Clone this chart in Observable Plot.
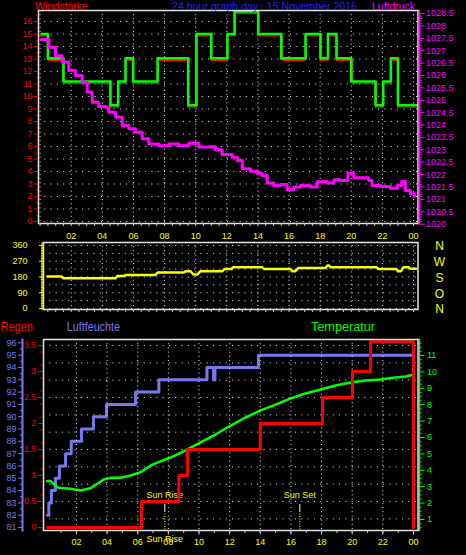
<!DOCTYPE html>
<html><head><meta charset="utf-8">
<script src="https://cdn.jsdelivr.net/npm/d3@7"></script>
<script src="https://cdn.jsdelivr.net/npm/@observablehq/plot@0.6"></script>
<style>
html,body{margin:0;padding:0;background:#000;}
#chart{position:relative;width:466px;height:555px;background:#000;overflow:hidden;}
</style></head><body><div id="chart"></div>
<script>
// ---------------- DATA ----------------
const hourTicks = [2,4,6,8,10,12,14,16,18,20,22,24];
const hourLabels = ["02","04","06","08","10","12","14","16","18","20","22","00"];

// Windstärke (green = gust, red = mean)
const windTicks = [0,1,2,3,4,5,6,7,8,9,10,11,12,13,14,15,16];
const windHours = [0.1,0.5,1.5,4.52,5.02,5.49,5.98,7.55,9.52,10.05,11.0,12.04,12.5,14.02,15.5,17.06,18.02,18.5,19.05,20.0,21.56,22.05,22.54,23.0,24.2];
const windGust  = [15.0,13.05,11.2,9.3,11.2,13.05,11.2,13.05,9.3,15.0,13.05,15.0,16.8,15.0,13.05,15.0,13.05,15.0,13.05,11.2,9.3,11.2,13.05,9.3,9.3];
const windAvgHours = [0.05,0.5,1.5,4.52,5.02,5.49,5.98,7.55,9.52,10.05,11.0,12.04,12.5,14.02,15.6,17.06,18.02,18.5,19.05,20.1,21.56,22.05,22.54,23.0,24.2];
const windAvg   = [14.85,12.9,11.05,9.15,11.05,12.9,11.05,12.9,9.15,14.85,12.9,14.85,16.65,14.85,12.9,14.85,12.9,14.85,12.9,11.05,9.15,11.05,12.9,9.15,9.15];

// Luftdruck
const pressTicks = [1020,1020.5,1021,1021.5,1022,1022.5,1023,1023.5,1024,1024.5,1025,1025.5,1026,1026.5,1027,1027.5,1028,1028.5];
const pressHours = [0.09,0.56,0.99,1.42,1.84,2.28,2.71,3.03,3.35,3.77,4.20,4.42,4.85,5.28,5.70,6.13,6.56,6.99,7.63,8.27,8.91,9.56,10.20,10.84,11.27,11.70,12.35,12.67,12.99,13.52,13.95,14.27,14.60,15.02,15.45,15.88,16.30,16.73,17.38,17.81,18.45,18.88,19.31,19.78,20.16,20.80,21.12,21.34,21.88,22.52,22.95,23.23,23.48,23.80,24.06];
const pressVals  = [1027.45,1027.14,1026.80,1026.54,1026.20,1026.00,1025.73,1025.33,1024.92,1024.75,1024.72,1024.52,1024.32,1023.98,1023.85,1023.71,1023.45,1023.24,1023.17,1023.24,1023.17,1023.27,1023.11,1023.13,1023.00,1022.81,1022.70,1022.57,1022.24,1022.14,1022.06,1021.97,1021.66,1021.56,1021.60,1021.39,1021.50,1021.56,1021.50,1021.72,1021.66,1021.79,1021.76,1022.06,1021.87,1021.87,1021.76,1021.56,1021.52,1021.45,1021.56,1021.72,1021.36,1021.23,1021.12];

// Windrichtung
const dirTicks = [0,90,180,270,360];
const compassLetters = ["N","W","S","O","N"];
const compassDeg = [360,270,180,90,0];
const dirHours = [0.46,1.38,1.5,4.85,4.95,5.38,5.5,7.42,7.55,9.24,9.35,9.67,9.85,10.1,10.31,11.72,11.85,12.3,12.4,14.27,14.4,16.1,16.2,16.4,16.6,18.34,18.47,18.55,18.66,21.62,21.75,22.9,23.0,23.2,23.35,23.68,23.8,24.17];
const dirVals  = [183,183,173,173,185,185,192,192,206,206,213,213,194,194,213,213,225,225,236,236,225,225,213,213,232,232,246,246,236,236,225,225,213,213,236,236,227,227];

// Luftfeuchte
const humTicks = [81,82,83,84,85,86,87,88,89,90,91,92,93,94,95,96];
const humHours = [0.11,0.2,0.37,0.63,0.89,1.29,1.66,2.33,3.11,3.96,5.86,7.38,10.52,10.95,11.04,13.88,24.0];
const humVals  = [82,83,84,85,86,87,88,89,90,91,92,93,94,93,94,95,95];

// Regen
const rainTicks = [0,0.5,1,1.5,2,2.5,3,3.5];
const rainHours = [0.11,6.25,8.68,9.25,14.0,18.06,20.02,21.2,24.0,24.0];
const rainVals  = [0,0.5,1.0,1.5,2.0,2.5,3.0,3.57,3.57,0];

// Temperatur
const tempTicks = [1,2,3,4,5,6,7,8,9,10,11];
const tempHours = [0.09,0.31,0.5,0.83,1.61,2.27,2.92,3.37,3.77,4.22,4.88,5.53,6.18,6.57,6.96,7.49,8.14,9.12,10.1,11.08,12.06,13.04,14.02,15.0,15.97,16.95,17.93,18.91,19.9,20.88,21.85,22.83,23.49,24.01];
const tempVals  = [3.34,3.34,3.18,2.93,2.87,2.77,2.91,3.18,3.44,3.54,3.54,3.68,3.88,4.13,4.35,4.54,4.78,5.21,5.70,6.18,6.73,7.22,7.65,8.01,8.38,8.68,8.93,9.17,9.35,9.48,9.54,9.66,9.72,9.84];

// Sonne
const sunEvents = ["Sun Rise","Sun Set"];
const sunHours = [7.77,16.58];

const titleTexts = ["Windstärke","24 hour graph day : 15 November 2016","Luftdruck","Regen","Luftfeuchte","Temperatur"];

// ---------------- DRAW ----------------
const W = 466, H = 555;
const FONT = "'Liberation Sans', Arial, sans-serif";
const HUM = "#7878ee";
const GRID = "#f0f0f0";
const FRAME = "#e4e4e4";
const chart = document.getElementById("chart");
function add(svg){
  Object.assign(svg.style,{position:"absolute",left:"0px",top:"0px",background:"transparent",
    overflow:"visible",fontFamily:FONT,fontSize:"9px",maxWidth:"none"});
  chart.appendChild(svg);
}
const pts = (hs, vs) => hs.map((h,i)=>({h, v: vs[i]}));
const fmtHour = d => hourLabels[hourTicks.indexOf(d)];
const noText = () => "";

// Panel 1 geometry
const P1 = {width:W, height:H, marginLeft:38, marginRight:48.5, marginTop:10, marginBottom:332};
const X1 = {domain:[-0.103, 24.287]};
const halfHours1 = d3.range(0, 24.3, 0.5);

// Wind
add(Plot.plot({...P1, x:{...X1}, y:{domain:[-0.16,16.88]},
  marks:[
    Plot.ruleY(windTicks, {stroke:GRID, strokeDasharray:"1,5.3"}),
    Plot.ruleX([0,...hourTicks], {stroke:GRID, strokeDasharray:"1,3.2"}),
    Plot.line(pts(windAvgHours, windAvg), {x:"h", y:"v", curve:"step-after", stroke:"#ff0000", strokeWidth:1.4}),
    Plot.line(pts(windHours, windGust), {x:"h", y:"v", curve:"step-after", stroke:"#00ff00", strokeWidth:2.6}),
    Plot.frame({stroke:FRAME, strokeWidth:1.5}),
    Plot.axisY(windTicks, {anchor:"left", tickSize:4, tickPadding:2, color:"#ff0000", label:null, tickFormat:d=>String(d)}),
    Plot.axisY(d3.range(0.5,16.6,1), {anchor:"left", tickSize:2, tickPadding:0, color:"#ff0000", label:null, tickFormat:noText}),
    Plot.axisX(hourTicks, {anchor:"bottom", tickSize:0, tickPadding:9, color:"#ffff00", label:null, tickFormat:fmtHour}),
    Plot.axisX(halfHours1, {anchor:"bottom", tickSize:3, tickPadding:0, color:"#cccccc", label:null, tickFormat:noText})
  ]}));

// Pressure
add(Plot.plot({...P1, x:{...X1, axis:null}, y:{domain:[1020.029,1028.621]},
  marks:[
    Plot.line(pts(pressHours, pressVals), {x:"h", y:"v", curve:"step-after", stroke:"#ff00ff", strokeWidth:3}),
    Plot.frame({anchor:"right", stroke:"#ff00ff", strokeWidth:1.5, dx:1.5}),
    Plot.axisY(pressTicks, {anchor:"right", tickSize:6, tickPadding:2, color:"#ff00ff", label:null, tickFormat:d=>d%1?d.toFixed(1):String(d)}),
    Plot.axisY(d3.range(1020.1,1028.6,0.1), {anchor:"right", tickSize:3, tickPadding:0, color:"#ff00ff", label:null, tickFormat:noText})
  ]}));

// Panel 2: direction
const P2 = {width:W, height:H, marginLeft:43, marginRight:48.5, marginTop:242, marginBottom:246};
add(Plot.plot({...P2, x:{domain:[0.2185,24.287]}, y:{domain:[-5.7,377.1]},
  marks:[
    Plot.ruleY(d3.range(0,361,45), {stroke:GRID, strokeDasharray:"1,5.3"}),
    Plot.ruleX(hourTicks, {stroke:GRID, strokeDasharray:"1,3.2"}),
    Plot.line(pts(dirHours, dirVals), {x:"h", y:"v", stroke:"#ffff00", strokeWidth:2.5}),
    Plot.frame({stroke:FRAME, strokeWidth:1.5}),
    Plot.frame({anchor:"left", stroke:"#ffff00", strokeWidth:1, dx:-1.5}),
    Plot.axisY(dirTicks, {anchor:"left", tickSize:4, tickPadding:12, color:"#ffff00", label:null, tickFormat:d=>String(d)}),
    Plot.axisY(d3.range(15,360,15), {anchor:"left", tickSize:2, tickPadding:0, color:"#ffff00", label:null, tickFormat:noText}),
    Plot.axisX(d3.range(0.5,24.3,0.5), {anchor:"bottom", tickSize:3, tickPadding:0, color:"#cccccc", label:null, tickFormat:noText}),
    Plot.text(compassDeg, {y:d=>d, text:(d,i)=>compassLetters[i], frameAnchor:"right", dx:21.5, dy:1, textAnchor:"middle", fill:"#ffff00", fontSize:12})
  ]}));

// Panel 3 geometry
const P3 = {width:W, height:H, marginLeft:43, marginRight:48.5, marginTop:339, marginBottom:25};
const X3 = {domain:[-0.15,24.295]};
const rainGrid = d3.range(0,11).map(k => 3.5 - k/3);

// Humidity line (under)
add(Plot.plot({...P3, x:{...X3, axis:null}, y:{domain:[80.756,96.272], axis:null},
  marks:[
    Plot.ruleY(rainGrid, {y:d=>81 + (d*52)/12.31, stroke:GRID, strokeDasharray:"1,5.3"}),
    Plot.line(pts(humHours, humVals), {x:"h", y:"v", curve:"step-after", stroke:HUM, strokeWidth:3})
  ]}));

// Temperature
add(Plot.plot({...P3, x:{...X3, axis:null}, y:{domain:[0.329,11.976]},
  marks:[
    Plot.line(pts(tempHours, tempVals), {x:"h", y:"v", stroke:"#00ff00", strokeWidth:2.5}),
    Plot.frame({anchor:"right", stroke:"#00ff00", strokeWidth:1.5, dx:1.5}),
    Plot.axisY(tempTicks, {anchor:"right", tickSize:6, tickPadding:3, color:"#00ff00", label:null, tickFormat:d=>String(d)}),
    Plot.axisY(d3.range(0.5,11.9,0.25).filter(d=>d%1), {anchor:"right", tickSize:3, tickPadding:0, color:"#00ff00", label:null, tickFormat:noText})
  ]}));

// Rain + frame + x axis + sun markers
add(Plot.plot({...P3, x:{...X3}, y:{domain:[-0.0577,3.615]},
  marks:[
    Plot.ruleX(hourTicks, {stroke:GRID, strokeDasharray:"1,3.2"}),
    Plot.ruleX(sunHours, {stroke:"#ffffff", strokeWidth:1, insetTop:165, insetBottom:19}),
    Plot.ruleX(sunHours, {stroke:"#ffff00", strokeWidth:1, strokeDasharray:"1,1.5", insetTop:172}),
    Plot.text(sunHours, {x:d=>d, text:(d,i)=>sunEvents[i], frameAnchor:"bottom", dy:-33, fill:"#ffff00", fontSize:9}),
    Plot.line(pts(rainHours, rainVals), {x:"h", y:"v", curve:"step-after", stroke:"#ff0000", strokeWidth:3}),
    Plot.frame({stroke:FRAME, strokeWidth:1.5}),
    Plot.axisY(rainTicks, {anchor:"left", tickSize:5, tickPadding:2, color:"#ff0000", label:null, tickFormat:d=>String(d)}),
    Plot.axisY(d3.range(0.125,3.6,0.25), {anchor:"left", tickSize:2.5, tickPadding:0, color:"#ff0000", label:null, tickFormat:noText}),
    Plot.axisX(hourTicks, {anchor:"bottom", tickSize:0, tickPadding:8, color:"#ffff00", label:null, tickFormat:fmtHour}),
    Plot.axisX(d3.range(1,24.1,1), {anchor:"bottom", tickSize:3, tickPadding:0, color:"#cccccc", label:null, tickFormat:noText}),
    Plot.axisX(hourTicks, {anchor:"bottom", tickSize:4.5, tickPadding:0, color:"#cccccc", label:null, tickFormat:noText}),
    Plot.text([sunHours[0]], {x:d=>d, text:()=>sunEvents[0], frameAnchor:"bottom", dy:11.5, fill:"#ffff00", fontSize:9})
  ]}));

// Humidity axis (separate, left of the rain axis)
add(Plot.plot({width:W, height:H, marginLeft:22, marginRight:443, marginTop:339, marginBottom:25,
  y:{domain:[80.756,96.272]},
  marks:[
    Plot.frame({anchor:"left", stroke:HUM, strokeWidth:2}),
    Plot.axisY(humTicks, {anchor:"left", tickSize:4, tickPadding:2, color:HUM, label:null, tickFormat:d=>String(d)}),
    Plot.axisY(d3.range(81.5,96,1), {anchor:"left", tickSize:2, tickPadding:0, color:HUM, label:null, tickFormat:noText})
  ]}));

// Titles
const titleLayout = [
  {x:35, y:9.5, w:53, c:"#ff0000", s:11.5},
  {x:172, y:9.8, w:185, c:"#2222ff", s:11.5},
  {x:372, y:9.5, w:43, c:"#ff00ff", s:11.5},
  {x:0.5, y:330.7, w:32.5, c:"#ff0000", s:12},
  {x:66.7, y:330.7, w:53.3, c:HUM, s:12},
  {x:311, y:330.7, w:64, c:"#00ff00", s:12}
];
const tsvg = d3.create("svg").attr("width",W).attr("height",H).attr("font-family",FONT);
titleTexts.forEach((t,i)=>{
  const L = titleLayout[i];
  tsvg.append("text").attr("x",L.x).attr("y",L.y).attr("fill",L.c).attr("font-size",L.s)
    .attr("textLength",L.w).attr("lengthAdjust","spacingAndGlyphs").text(t);
});
add(tsvg.node());
</script></body></html>
